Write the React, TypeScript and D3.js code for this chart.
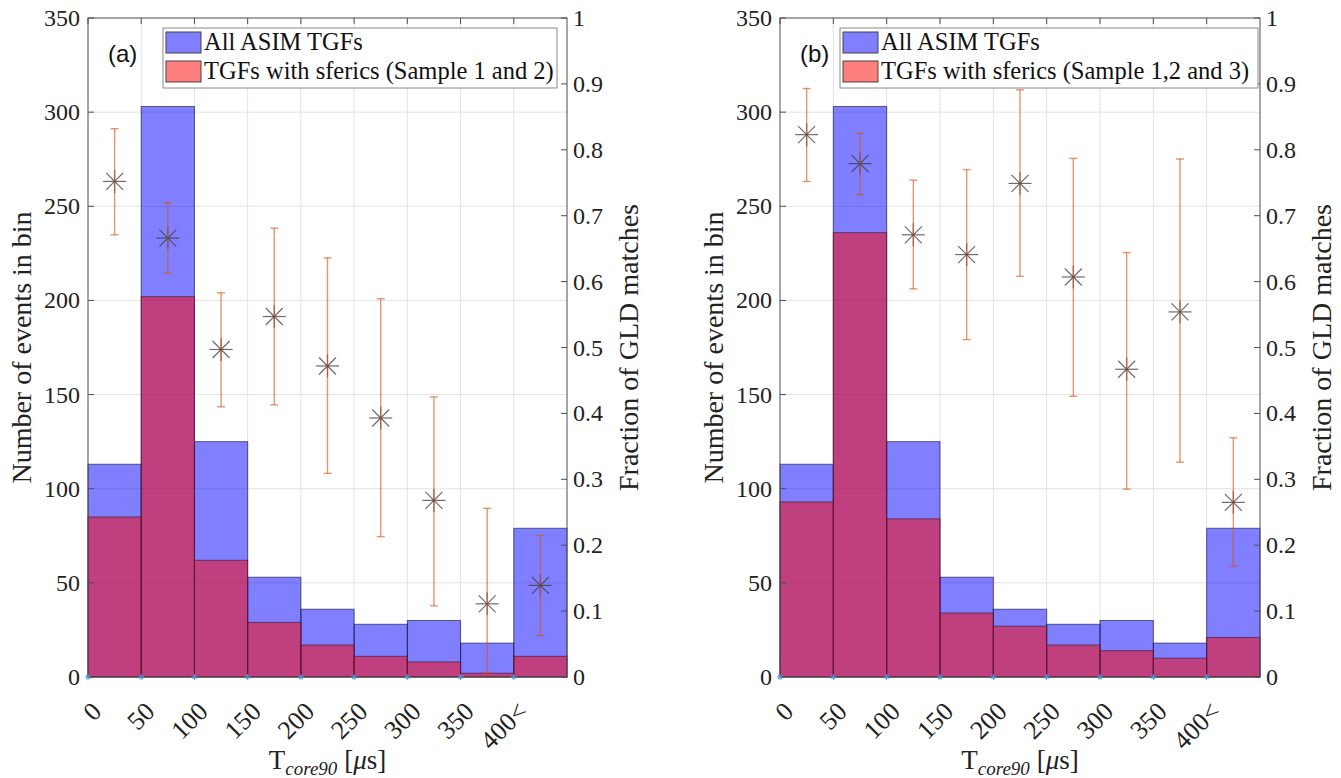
import React from "react";
import * as d3 from "d3";

// ---- data ----
const binEdges = [0, 50, 100, 150, 200, 250, 300, 350, 400, 450];
const xTickValues = [0, 50, 100, 150, 200, 250, 300, 350, 400];
const xTickLabels = ["0", "50", "100", "150", "200", "250", "300", "350", "400<"];
const leftTicks = [0, 50, 100, 150, 200, 250, 300, 350];
const rightTicks = [0, 0.1, 0.2, 0.3, 0.4, 0.5, 0.6, 0.7, 0.8, 0.9, 1];

const allCounts = [113, 303, 125, 53, 36, 28, 30, 18, 79];
const sfericsA = [85, 202, 62, 29, 17, 11, 8, 2, 11];
const sfericsB = [93, 236, 84, 34, 27, 17, 14, 10, 21];

const fracA = [0.752, 0.666, 0.497, 0.547, 0.472, 0.393, 0.268, 0.111, 0.139];
const fracALo = [0.671, 0.613, 0.41, 0.413, 0.309, 0.213, 0.108, 0.006, 0.063];
const fracAHi = [0.832, 0.72, 0.583, 0.681, 0.636, 0.574, 0.425, 0.256, 0.215];

const fracB = [0.823, 0.779, 0.671, 0.641, 0.749, 0.607, 0.467, 0.554, 0.265];
const fracBLo = [0.752, 0.732, 0.589, 0.512, 0.608, 0.426, 0.285, 0.326, 0.168];
const fracBHi = [0.893, 0.825, 0.754, 0.77, 0.891, 0.787, 0.644, 0.786, 0.363];

const SERIF = "Liberation Serif";
const SANS = "Liberation Sans";
const AXIS = "#4d4d4d";

type PanelProps = {
  left: number;
  right: number;
  tag: string;
  legendText: string;
  legendX0: number;
  legendX1: number;
  red: number[];
  frac: number[];
  lo: number[];
  hi: number[];
};

function Panel(p: PanelProps) {
  const top = 18;
  const bottom = 677;
  const x = d3.scaleLinear().domain([0, 450]).range([p.left, p.right]);
  const yL = d3.scaleLinear().domain([0, 350]).range([bottom, top]);
  const yR = d3.scaleLinear().domain([0, 1]).range([bottom, top]);
  const bins = d3.range(allCounts.length);
  const mid = (i: number) => x((binEdges[i] + binEdges[i + 1]) / 2);
  const cx = (p.left + p.right) / 2;
  const cy = (top + bottom) / 2;

  return (
    <g fontFamily={SERIF}>
      {/* grid */}
      {xTickValues.filter((v) => v > 0).map((v) => (
        <line key={"gx" + v} x1={x(v)} x2={x(v)} y1={top} y2={bottom} stroke="#e3e3e3" strokeWidth={1} />
      ))}
      {leftTicks.filter((v) => v > 0 && v < 350).map((v) => (
        <line key={"gy" + v} x1={p.left} x2={p.right} y1={yL(v)} y2={yL(v)} stroke="#e3e3e3" strokeWidth={1} />
      ))}
      {/* bars */}
      {bins.map((i) => (
        <rect key={"b" + i} x={x(binEdges[i])} width={x(binEdges[i + 1]) - x(binEdges[i])}
          y={yL(allCounts[i])} height={yL(0) - yL(allCounts[i])}
          fill="rgb(0,0,255)" fillOpacity={0.5} stroke="#1a1a40" strokeOpacity={0.65} strokeWidth={1} />
      ))}
      {bins.map((i) => (
        <rect key={"r" + i} x={x(binEdges[i])} width={x(binEdges[i + 1]) - x(binEdges[i])}
          y={yL(p.red[i])} height={yL(0) - yL(p.red[i])}
          fill="rgb(255,0,0)" fillOpacity={0.5} stroke="#401a30" strokeOpacity={0.65} strokeWidth={1} />
      ))}
      {/* star markers */}
      {bins.map((i) => {
        const px = mid(i);
        const py = yR(p.frac[i]);
        const h = 11.5;
        const d = 8.5;
        return (
          <g key={"s" + i} stroke="#3a3a3a" strokeOpacity={0.75} strokeWidth={1.2}>
            <line x1={px - h} x2={px + h} y1={py} y2={py} />
            <line x1={px} x2={px} y1={py - h} y2={py + h} />
            <line x1={px - d} x2={px + d} y1={py - d} y2={py + d} />
            <line x1={px - d} x2={px + d} y1={py + d} y2={py - d} />
          </g>
        );
      })}
      {/* error bars */}
      {bins.map((i) => {
        const px = mid(i);
        return (
          <g key={"e" + i} stroke="rgb(217,83,25)" strokeOpacity={0.62} strokeWidth={1.4}>
            <line x1={px} x2={px} y1={yR(p.hi[i])} y2={yR(p.lo[i])} />
            <line x1={px - 4} x2={px + 4} y1={yR(p.hi[i])} y2={yR(p.hi[i])} />
            <line x1={px - 4} x2={px + 4} y1={yR(p.lo[i])} y2={yR(p.lo[i])} />
          </g>
        );
      })}
      {/* axes box */}
      <rect x={p.left} y={top} width={p.right - p.left} height={bottom - top} fill="none" stroke={AXIS} strokeWidth={1} />
      {/* left ticks */}
      {leftTicks.map((v) => (
        <g key={"lt" + v}>
          <line x1={p.left} x2={p.left + 6} y1={yL(v)} y2={yL(v)} stroke={AXIS} />
          <text x={p.left - 8} y={yL(v) + 8} textAnchor="end" fontFamily={SERIF} fontSize={24} fill="#222">{v}</text>
        </g>
      ))}
      {/* right ticks */}
      {rightTicks.map((v) => (
        <g key={"rt" + v}>
          <line x1={p.right - 6} x2={p.right} y1={yR(v)} y2={yR(v)} stroke={AXIS} />
          <text x={p.right + 6} y={yR(v) + 8} textAnchor="start" fontFamily={SERIF} fontSize={24} fill="#222">{d3.format("~g")(v)}</text>
        </g>
      ))}
      {/* top ticks */}
      {xTickValues.map((v) => (
        <line key={"tt" + v} x1={x(v)} x2={x(v)} y1={top} y2={top + 6} stroke={AXIS} />
      ))}
      {/* bottom x tick labels */}
      {xTickValues.map((v, i) => (
        <text key={"xl" + v} transform={`translate(${x(v) + 15},${bottom + 36}) rotate(-45)`}
          textAnchor="end" fontFamily={SERIF} fontSize={26} fill="#222">{xTickLabels[i]}</text>
      ))}
      {/* blue asterisks at bin edges */}
      {xTickValues.map((v) => {
        const px = x(v);
        const py = bottom;
        const s = 3;
        return (
          <g key={"ba" + v} stroke="rgb(77,150,220)" strokeWidth={1}>
            <line x1={px - s} x2={px + s} y1={py} y2={py} />
            <line x1={px} x2={px} y1={py - s} y2={py + s} />
            <line x1={px - s * 0.7} x2={px + s * 0.7} y1={py - s * 0.7} y2={py + s * 0.7} />
            <line x1={px - s * 0.7} x2={px + s * 0.7} y1={py + s * 0.7} y2={py - s * 0.7} />
          </g>
        );
      })}
      {/* axis labels */}
      <text transform={`translate(${p.left - 57},${cy}) rotate(-90)`} textAnchor="middle"
        fontFamily={SERIF} fontSize={28} fill="#222">Number of events in bin</text>
      <text transform={`translate(${p.right + 71},${cy}) rotate(-90)`} textAnchor="middle"
        fontFamily={SERIF} fontSize={28} fill="#222">Fraction of GLD matches</text>
      <text x={cx} y={769} textAnchor="middle" fontFamily={SERIF} fontSize={27} fill="#222">
        T<tspan fontStyle="italic" fontSize={19} dy={6}>core90</tspan>
        <tspan dy={-6}>{" ["}</tspan><tspan fontStyle="italic">μ</tspan>s]
      </text>
      {/* panel tag */}
      <text x={p.left + 20} y={62} fontFamily={SANS} fontSize={24} fill="#111">{p.tag}</text>
      {/* legend */}
      <rect x={p.legendX0} y={28} width={p.legendX1 - p.legendX0} height={60} fill="#fff" stroke="#888" strokeWidth={1} />
      <rect x={p.legendX0 + 3} y={32} width={35} height={21} fill="rgb(0,0,255)" fillOpacity={0.5} stroke="#444" strokeWidth={1} />
      <rect x={p.legendX0 + 3} y={61} width={35} height={21} fill="rgb(255,0,0)" fillOpacity={0.5} stroke="#444" strokeWidth={1} />
      <text x={p.legendX0 + 41} y={50} fontFamily={SERIF} fontSize={24.5} fill="#111">All ASIM TGFs</text>
      <text x={p.legendX0 + 41} y={79} fontFamily={SERIF} fontSize={24.5} fill="#111">{p.legendText}</text>
    </g>
  );
}

export default function App() {
  return (
    <svg width={1341} height={778} fontFamily={SERIF} style={{ position: "absolute", left: 0, top: 0, background: "#fff" }}>
      <rect x={0} y={0} width={1341} height={778} fill="#fff" />
      <Panel left={88} right={567} tag="(a)" legendText="TGFs with sferics (Sample 1 and 2)"
        legendX0={163} legendX1={557} red={sfericsA} frac={fracA} lo={fracALo} hi={fracAHi} />
      <Panel left={780} right={1260} tag="(b)" legendText="TGFs with sferics (Sample 1,2 and 3)"
        legendX0={840} legendX1={1258} red={sfericsB} frac={fracB} lo={fracBLo} hi={fracBHi} />
    </svg>
  );
}
